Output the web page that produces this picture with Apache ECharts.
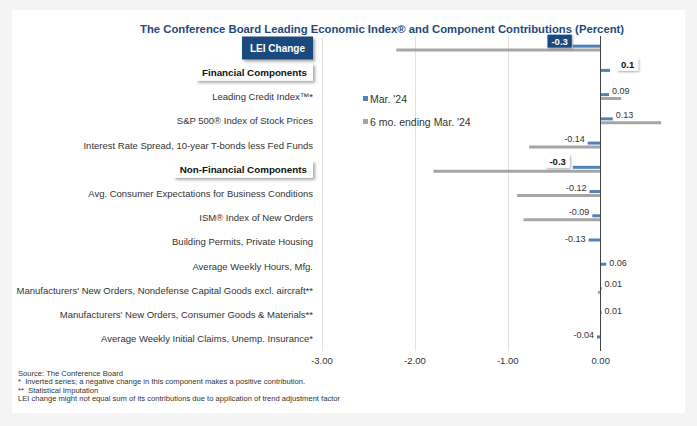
<!DOCTYPE html>
<html>
<head>
<meta charset="utf-8">
<script src="https://cdn.jsdelivr.net/npm/echarts@6/dist/echarts.min.js"></script>
<style>
  html, body { margin:0; padding:0; background:#f4f4f4; }
  #card { position:absolute; left:12px; top:10px; width:673px; height:403px; background:#fff; }
  #chart { position:absolute; left:0; top:0; width:697px; height:426px; }
</style>
</head>
<body>
<div id="card"></div>
<div id="chart"></div>
<script>
const categories = [
  'LEI Change',
  'Financial Components',
  'Leading Credit Index\u2122*',
  'S&P 500\u00ae Index of Stock Prices',
  'Interest Rate Spread, 10-year T-bonds less Fed Funds',
  'Non-Financial Components',
  'Avg. Consumer Expectations for Business Conditions',
  'ISM\u00ae Index of New Orders',
  'Building Permits, Private Housing',
  'Average Weekly Hours, Mfg.',
  "Manufacturers' New Orders, Nondefense Capital Goods excl. aircraft**",
  "Manufacturers' New Orders, Consumer Goods & Materials**",
  'Average Weekly Initial Claims, Unemp. Insurance*'
];
const rowTypes = ['lei','group','item','item','item','group','item','item','item','item','item','item','item'];
const marValues = [-0.3, 0.1, 0.09, 0.13, -0.14, -0.3, -0.12, -0.09, -0.13, 0.06, 0.01, 0.01, -0.04];
const sixMoValues = [-2.2, 0, 0.22, 0.65, -0.77, -1.8, -0.9, -0.83, 0, 0, -0.03, 0, 0];
const seriesNames = ["Mar. '24", "6 mo. ending Mar. '24"];
const xTicks = [-3, -2, -1, 0];
const footnotes = [
  'Source: The Conference Board',
  '*  Inverted series; a negative change in this component makes a positive contribution.',
  '**  Statistical Imputation',
  'LEI change might not equal sum of its contributions due to application of trend adjustment factor'
];
const titleText = 'The Conference Board Leading Economic Index\u00ae and Component Contributions (Percent)';

const FONT = '"Liberation Sans", Arial, sans-serif';
const BLUE = '#4f81bd';
const GREY = '#a6a6a6';
const NAVY = '#1f497d';

const blueData = marValues.map((v, i) => {
  const t = rowTypes[i];
  const greyLonger = Math.abs(sixMoValues[i]) > Math.abs(v);
  const lbl = {
    show: true,
    position: v >= 0 ? 'right' : 'left',
    distance: 3,
    offset: [0, greyLonger ? -4 : -1.5],
    fontFamily: FONT,
    fontSize: 9,
    color: '#333',
    formatter: t === 'item' ? v.toFixed(2) : v.toFixed(1)
  };
  if (t === 'lei') {
    Object.assign(lbl, {
      distance: 1, offset: [0, -5], color: '#fff', fontWeight: 'bold', fontSize: 9.5,
      backgroundColor: NAVY, padding: [2, 4, 1, 4],
      shadowColor: 'rgba(0,0,0,0.35)', shadowBlur: 2, shadowOffsetX: 1, shadowOffsetY: 1
    });
  } else if (t === 'group') {
    Object.assign(lbl, {
      distance: v >= 0 ? 7 : 3, offset: [0, -6], color: '#111', fontWeight: 'bold', fontSize: 9.5,
      backgroundColor: '#fff', padding: [2, 4, 1, 4],
      shadowColor: 'rgba(0,0,0,0.35)', shadowBlur: 2, shadowOffsetX: 1, shadowOffsetY: 1
    });
  }
  return { value: v, label: lbl };
});

const chart = echarts.init(document.getElementById('chart'), null, { renderer: 'svg' });
chart.setOption({
  backgroundColor: 'transparent',
  animation: false,
  title: {
    text: titleText,
    left: 135, top: 18,
    textStyle: { fontFamily: FONT, fontSize: 11.3, fontWeight: 'bold', color: NAVY }
  },
  legend: {
    orient: 'vertical',
    left: 358, top: 88,
    itemWidth: 5, itemHeight: 5, itemGap: 12,
    icon: 'rect',
    data: seriesNames,
    textStyle: { fontFamily: FONT, fontSize: 10.5, color: '#333', padding: [0, 0, 0, -3] }
  },
  grid: { left: 322, right: 22, top: 36, bottom: 75, containLabel: false },
  xAxis: {
    type: 'value',
    min: xTicks[0], max: 0.8, interval: 1,
    axisLine: { show: false },
    axisTick: { show: false },
    splitLine: { show: true, showMaxLine: false, lineStyle: { color: '#e2e2e2', width: 1 } },
    axisLabel: {
      showMaxLabel: false, margin: 4,
      fontFamily: FONT, fontSize: 9.5, color: '#333',
      formatter: v => v.toFixed(2)
    }
  },
  yAxis: {
    type: 'category',
    inverse: true,
    data: categories,
    axisLine: { show: false, onZero: false },
    axisTick: { show: false },
    axisLabel: {
      margin: 9,
      fontFamily: FONT, fontSize: 9.5, color: '#333',
      formatter: (v, i) => rowTypes[i] === 'lei' ? '{lei|' + v + '}' : (rowTypes[i] === 'group' ? '{grp|' + v + '}' : v),
      rich: {
        lei: {
          fontFamily: FONT, fontSize: 10, fontWeight: 'bold', color: '#fff',
          backgroundColor: NAVY, padding: [7, 8, 6, 8],
          shadowColor: 'rgba(0,0,0,0.35)', shadowBlur: 3, shadowOffsetX: 2, shadowOffsetY: 2
        },
        grp: {
          fontFamily: FONT, fontSize: 9.8, fontWeight: 'bold', color: '#111',
          backgroundColor: '#fff', padding: [4, 6, 3, 6],
          shadowColor: 'rgba(0,0,0,0.35)', shadowBlur: 3, shadowOffsetX: 2, shadowOffsetY: 2
        }
      }
    }
  },
  series: [
    {
      name: seriesNames[0], type: 'bar', data: blueData,
      barWidth: 3, barGap: '30%',
      itemStyle: { color: BLUE }, z: 3
    },
    {
      name: seriesNames[1], type: 'bar', data: sixMoValues,
      barWidth: 3,
      itemStyle: { color: GREY }, z: 2,
      markLine: {
        silent: true, symbol: 'none', label: { show: false },
        lineStyle: { color: '#444', width: 1, type: 'solid' },
        data: [{ xAxis: 0 }]
      }
    }
  ],
  graphic: footnotes.map((t, i) => ({
    type: 'text', left: 18, top: 369 + i * 8.5,
    style: { text: t, fontFamily: FONT, fontSize: 7.6, fill: '#333' }
  }))
});
</script>
</body>
</html>
